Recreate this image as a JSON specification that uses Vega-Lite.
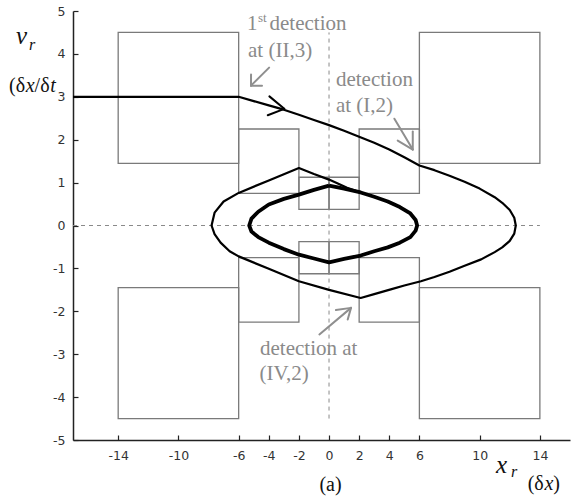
{
  "$schema": "https://vega.github.io/schema/vega-lite/v6.json",
  "autosize": "none",
  "width": 497,
  "height": 429,
  "padding": {"left": 73, "top": 11, "right": 2, "bottom": 63},
  "background": "white",
  "config": {
    "view": {"stroke": null},
    "axisX": {"domainColor": "#222", "domainWidth": 1.5, "tickColor": "#222", "tickSize": -5, "tickWidth": 1.2, "labelFont": "DejaVu Sans", "labelFontSize": 12.5, "labelColor": "#333", "labelPadding": 14, "grid": false, "labelFlush": false, "labelExpr": "toString(datum.value)"},
    "axisY": {"domainColor": "#222", "domainWidth": 1.5, "tickColor": "#222", "tickSize": -5, "tickWidth": 1.2, "labelFont": "DejaVu Sans", "labelFontSize": 12.5, "labelColor": "#333", "labelPadding": 13, "grid": false, "labelFlush": false, "labelExpr": "toString(datum.value)"}
  },
  "datasets": {
    "boxes": [
      {"x": -14, "x2": -6, "y": 1.45, "y2": 4.5},
      {"x": 6, "x2": 14, "y": 1.45, "y2": 4.5},
      {"x": -14, "x2": -6, "y": -4.5, "y2": -1.45},
      {"x": 6, "x2": 14, "y": -4.5, "y2": -1.45},
      {"x": -6, "x2": -2, "y": 0.75, "y2": 2.25},
      {"x": 2, "x2": 6, "y": 0.75, "y2": 2.25},
      {"x": -6, "x2": -2, "y": -2.25, "y2": -0.75},
      {"x": 2, "x2": 6, "y": -2.25, "y2": -0.75},
      {"x": -2, "x2": 0, "y": 0.375, "y2": 1.125},
      {"x": 0, "x2": 2, "y": 0.375, "y2": 1.125},
      {"x": -2, "x2": 0, "y": -1.125, "y2": -0.375},
      {"x": 0, "x2": 2, "y": -1.125, "y2": -0.375}
    ],
    "dashed": [
      {"x": -17, "x2": 14, "y": 0, "y2": 0},
      {"x": 0, "x2": 0, "y": -4.5, "y2": 4.5}
    ],
    "outer": [
      {"i": 0, "x": -17, "y": 3}, {"i": 1, "x": -6, "y": 3}, {"i": 2, "x": -5, "y": 2.9},
      {"i": 3, "x": -4, "y": 2.8}, {"i": 4, "x": -3, "y": 2.7}, {"i": 5, "x": -2, "y": 2.58},
      {"i": 6, "x": -1, "y": 2.46}, {"i": 7, "x": 0, "y": 2.34}, {"i": 8, "x": 1, "y": 2.21},
      {"i": 9, "x": 2, "y": 2.07}, {"i": 10, "x": 3, "y": 1.93}, {"i": 11, "x": 4, "y": 1.77},
      {"i": 12, "x": 5, "y": 1.59}, {"i": 13, "x": 6, "y": 1.4}, {"i": 14, "x": 7, "y": 1.29},
      {"i": 15, "x": 8, "y": 1.16}, {"i": 16, "x": 9, "y": 1.02}, {"i": 17, "x": 10, "y": 0.86},
      {"i": 18, "x": 11, "y": 0.66}, {"i": 19, "x": 11.5, "y": 0.53}, {"i": 20, "x": 12, "y": 0.36},
      {"i": 21, "x": 12.3, "y": 0.18}, {"i": 22, "x": 12.4, "y": 0}, {"i": 23, "x": 12.3, "y": -0.19},
      {"i": 24, "x": 12.0, "y": -0.36}, {"i": 25, "x": 11.5, "y": -0.51}, {"i": 26, "x": 11, "y": -0.62},
      {"i": 27, "x": 10.1, "y": -0.79}, {"i": 28, "x": 9, "y": -0.94}, {"i": 29, "x": 8, "y": -1.08},
      {"i": 30, "x": 7, "y": -1.2}, {"i": 31, "x": 6.1, "y": -1.3}, {"i": 32, "x": 5, "y": -1.4},
      {"i": 33, "x": 4.1, "y": -1.49}, {"i": 34, "x": 3, "y": -1.6}, {"i": 35, "x": 2.1, "y": -1.69},
      {"i": 36, "x": 0, "y": -1.5}, {"i": 37, "x": -2, "y": -1.3}, {"i": 38, "x": -4, "y": -1.01},
      {"i": 39, "x": -6, "y": -0.72}, {"i": 40, "x": -6.6, "y": -0.6}, {"i": 41, "x": -7.2, "y": -0.4},
      {"i": 42, "x": -7.6, "y": -0.2}, {"i": 43, "x": -7.8, "y": 0}, {"i": 44, "x": -7.6, "y": 0.3},
      {"i": 45, "x": -7.0, "y": 0.56}, {"i": 46, "x": -6, "y": 0.76}, {"i": 47, "x": -4, "y": 1.05},
      {"i": 48, "x": -2, "y": 1.34}, {"i": 49, "x": -1, "y": 1.2}, {"i": 50, "x": 0, "y": 1.07},
      {"i": 51, "x": 1.2, "y": 0.88}, {"i": 52, "x": 2.1, "y": 0.77}
    ],
    "inner": [
      {"i": 0, "x": 0, "y": 0.93}, {"i": 1, "x": 1, "y": 0.86}, {"i": 2, "x": 2.1, "y": 0.77},
      {"i": 3, "x": 3, "y": 0.67}, {"i": 4, "x": 3.9, "y": 0.56}, {"i": 5, "x": 4.7, "y": 0.43},
      {"i": 6, "x": 5.4, "y": 0.28}, {"i": 7, "x": 5.75, "y": 0.13}, {"i": 8, "x": 5.85, "y": 0},
      {"i": 9, "x": 5.75, "y": -0.12}, {"i": 10, "x": 5.4, "y": -0.27}, {"i": 11, "x": 4.7, "y": -0.4},
      {"i": 12, "x": 3.9, "y": -0.51}, {"i": 13, "x": 3, "y": -0.6}, {"i": 14, "x": 2.1, "y": -0.7},
      {"i": 15, "x": 1, "y": -0.78}, {"i": 16, "x": 0, "y": -0.86}, {"i": 17, "x": -1, "y": -0.77},
      {"i": 18, "x": -2, "y": -0.68}, {"i": 19, "x": -3, "y": -0.55}, {"i": 20, "x": -4, "y": -0.4},
      {"i": 21, "x": -4.7, "y": -0.27}, {"i": 22, "x": -5.15, "y": -0.14}, {"i": 23, "x": -5.3, "y": 0},
      {"i": 24, "x": -5.15, "y": 0.16}, {"i": 25, "x": -4.7, "y": 0.32}, {"i": 26, "x": -4, "y": 0.49},
      {"i": 27, "x": -3, "y": 0.62}, {"i": 28, "x": -2, "y": 0.72}, {"i": 29, "x": -1, "y": 0.83},
      {"i": 30, "x": 0, "y": 0.93}
    ],
    "grayarrows": [
      {"x": -3.98, "y": 3.68, "x2": -5.18, "y2": 3.26},
      {"x": -5.18, "y": 3.52, "x2": -5.18, "y2": 3.26},
      {"x": -4.45, "y": 3.26, "x2": -5.18, "y2": 3.26},
      {"x": 4.34, "y": 2.49, "x2": 5.56, "y2": 1.77},
      {"x": 4.56, "y": 1.98, "x2": 5.56, "y2": 1.77},
      {"x": 5.56, "y": 2.19, "x2": 5.56, "y2": 1.77},
      {"x": -0.64, "y": -2.54, "x2": 1.46, "y2": -1.92},
      {"x": 0.46, "y": -1.97, "x2": 1.46, "y2": -1.92},
      {"x": 1.24, "y": -2.19, "x2": 1.46, "y2": -1.92}
    ],
    "chevron": [
      {"x": -3.96, "y": 3.01, "x2": -2.97, "y2": 2.72},
      {"x": -4.07, "y": 2.57, "x2": -2.97, "y2": 2.72}
    ],
    "graytext": [
      {"x": -5.45, "y": 4.55, "t": "1"},
      {"x": -3.95, "y": 4.55, "t": "detection"},
      {"x": -5.38, "y": 3.93, "t": "at (II,3)"},
      {"x": 0.46, "y": 3.25, "t": "detection"},
      {"x": 0.46, "y": 2.65, "t": "at (I,2)"},
      {"x": -4.58, "y": -3.03, "t": "detection at"},
      {"x": -4.62, "y": -3.59, "t": "(IV,2)"}
    ],
    "graysup": [
      {"x": -4.72, "y": 4.74, "t": "st"}
    ],
    "blacktext": [
      {"x": -21.25, "y": 3.12, "t": "(δ"},
      {"x": -19.55, "y": 3.12, "t": "/δ"},
      {"x": 13.19, "y": -6.17, "t": "(δ"},
      {"x": 14.89, "y": -6.17, "t": ")"},
      {"x": -0.64, "y": -6.18, "t": "(a)"}
    ],
    "italicmid": [
      {"x": -20.14, "y": 3.12, "t": "x"},
      {"x": -18.51, "y": 3.12, "t": "t"},
      {"x": 14.3, "y": -6.17, "t": "x"}
    ],
    "italic": [
      {"x": -20.78, "y": 4.22, "t": "v"},
      {"x": 11.09, "y": -5.77, "t": "x"}
    ],
    "italicsub": [
      {"x": -19.92, "y": 4.1, "t": "r"},
      {"x": 12.08, "y": -5.87, "t": "r"}
    ]
  },
  "layer": [
    {
      "data": {"name": "boxes"},
      "mark": {"type": "rect", "fill": "white", "fillOpacity": 0, "stroke": "#7a7a7a", "strokeWidth": 1.3},
      "encoding": {
        "x": {"field": "x", "type": "quantitative", "title": null,
              "scale": {"domain": [-17, 16], "nice": false, "zero": false},
              "axis": {"values": [-14, -10, -6, -4, -2, 0, 2, 4, 6, 10, 14]}},
        "x2": {"field": "x2"},
        "y": {"field": "y", "type": "quantitative", "title": null,
              "scale": {"domain": [-5, 5], "nice": false, "zero": false},
              "axis": {"values": [-5, -4, -3, -2, -1, 0, 1, 2, 3, 4, 5]}},
        "y2": {"field": "y2"}
      }
    },
    {
      "data": {"name": "dashed"},
      "mark": {"type": "rule", "stroke": "#8a8a8a", "strokeWidth": 1, "strokeDash": [4, 4]},
      "encoding": {
        "x": {"field": "x", "type": "quantitative", "title": null},
        "x2": {"field": "x2"},
        "y": {"field": "y", "type": "quantitative", "title": null},
        "y2": {"field": "y2"}
      }
    },
    {
      "data": {"name": "outer"},
      "mark": {"type": "line", "stroke": "black", "strokeWidth": 2.2, "strokeJoin": "round"},
      "encoding": {
        "x": {"field": "x", "type": "quantitative", "title": null},
        "y": {"field": "y", "type": "quantitative", "title": null},
        "order": {"field": "i", "type": "quantitative"}
      }
    },
    {
      "data": {"name": "inner"},
      "mark": {"type": "line", "stroke": "black", "strokeWidth": 3.8, "strokeJoin": "round"},
      "encoding": {
        "x": {"field": "x", "type": "quantitative", "title": null},
        "y": {"field": "y", "type": "quantitative", "title": null},
        "order": {"field": "i", "type": "quantitative"}
      }
    },
    {
      "data": {"name": "grayarrows"},
      "mark": {"type": "rule", "stroke": "#8f8f8f", "strokeWidth": 2, "strokeCap": "round"},
      "encoding": {
        "x": {"field": "x", "type": "quantitative", "title": null},
        "x2": {"field": "x2"},
        "y": {"field": "y", "type": "quantitative", "title": null},
        "y2": {"field": "y2"}
      }
    },
    {
      "data": {"name": "chevron"},
      "mark": {"type": "rule", "stroke": "black", "strokeWidth": 2, "strokeCap": "round"},
      "encoding": {
        "x": {"field": "x", "type": "quantitative", "title": null},
        "x2": {"field": "x2"},
        "y": {"field": "y", "type": "quantitative", "title": null},
        "y2": {"field": "y2"}
      }
    },
    {
      "data": {"name": "graytext"},
      "mark": {"type": "text", "font": "Liberation Serif", "fontSize": 21, "fill": "#8a8a8a", "align": "left", "baseline": "alphabetic"},
      "encoding": {
        "x": {"field": "x", "type": "quantitative", "title": null},
        "y": {"field": "y", "type": "quantitative", "title": null},
        "text": {"field": "t"}
      }
    },
    {
      "data": {"name": "graysup"},
      "mark": {"type": "text", "font": "Liberation Serif", "fontSize": 13, "fill": "#8a8a8a", "align": "left", "baseline": "alphabetic"},
      "encoding": {
        "x": {"field": "x", "type": "quantitative", "title": null},
        "y": {"field": "y", "type": "quantitative", "title": null},
        "text": {"field": "t"}
      }
    },
    {
      "data": {"name": "blacktext"},
      "mark": {"type": "text", "font": "Liberation Serif", "fontSize": 20, "fill": "#111", "align": "left", "baseline": "alphabetic"},
      "encoding": {
        "x": {"field": "x", "type": "quantitative", "title": null},
        "y": {"field": "y", "type": "quantitative", "title": null},
        "text": {"field": "t"}
      }
    },
    {
      "data": {"name": "italicmid"},
      "mark": {"type": "text", "font": "Liberation Serif", "fontSize": 20, "fontStyle": "italic", "fill": "#111", "align": "left", "baseline": "alphabetic"},
      "encoding": {
        "x": {"field": "x", "type": "quantitative", "title": null},
        "y": {"field": "y", "type": "quantitative", "title": null},
        "text": {"field": "t"}
      }
    },
    {
      "data": {"name": "italic"},
      "mark": {"type": "text", "font": "Liberation Serif", "fontSize": 25, "fontStyle": "italic", "fill": "#111", "align": "left", "baseline": "alphabetic"},
      "encoding": {
        "x": {"field": "x", "type": "quantitative", "title": null},
        "y": {"field": "y", "type": "quantitative", "title": null},
        "text": {"field": "t"}
      }
    },
    {
      "data": {"name": "italicsub"},
      "mark": {"type": "text", "font": "Liberation Serif", "fontSize": 16, "fontStyle": "italic", "fill": "#111", "align": "left", "baseline": "alphabetic"},
      "encoding": {
        "x": {"field": "x", "type": "quantitative", "title": null},
        "y": {"field": "y", "type": "quantitative", "title": null},
        "text": {"field": "t"}
      }
    }
  ]
}
